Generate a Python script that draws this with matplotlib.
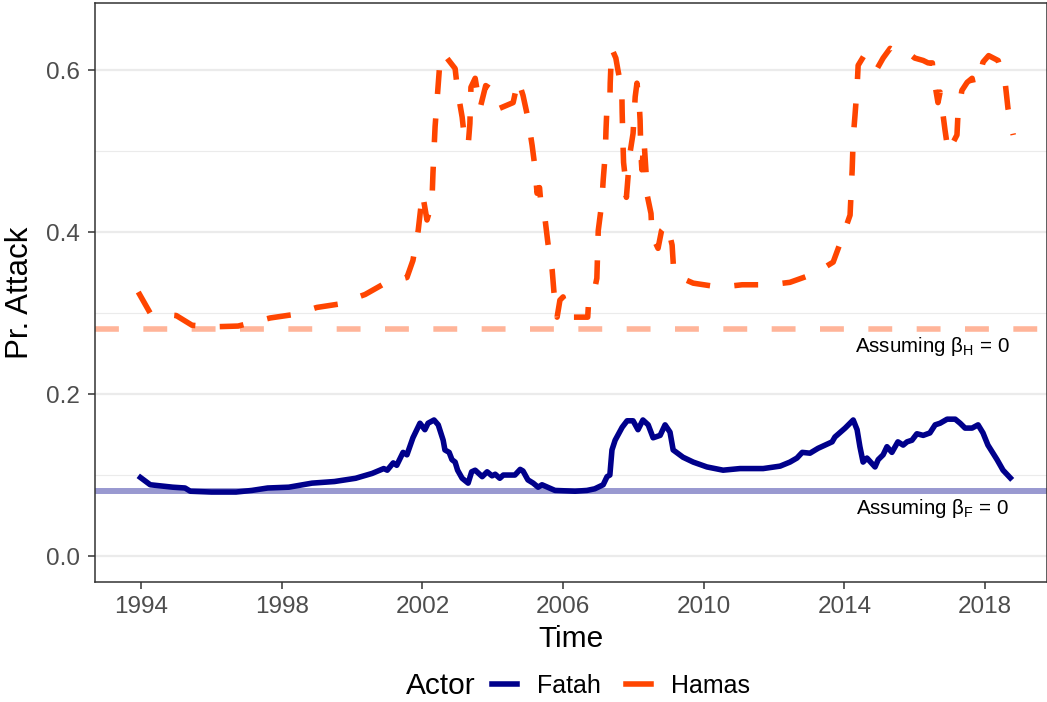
#!/usr/bin/env python3
import matplotlib

matplotlib.use("Agg")
from matplotlib import pyplot as plt
from matplotlib.lines import Line2D

plt.rcParams["font.family"] = ["Liberation Sans", "DejaVu Sans"]

# Fatah predicted attack probability (decimal year, value)
fatah_year = [
    1993.92, 1994.26, 1994.9, 1995.25, 1995.4, 1996.0, 1996.7, 1997.15, 1997.6,
    1998.2, 1998.86, 1999.5, 2000.1, 2000.57, 2000.9, 2001.0, 2001.17, 2001.27,
    2001.45, 2001.56, 2001.73, 2001.93, 2002.07, 2002.16, 2002.33, 2002.45,
    2002.59, 2002.64, 2002.76, 2002.84, 2002.93, 2003.0, 2003.13, 2003.3,
    2003.4, 2003.5, 2003.7, 2003.84, 2003.98, 2004.07, 2004.2, 2004.3, 2004.63,
    2004.78, 2004.86, 2005.0, 2005.15, 2005.29, 2005.4, 2005.77, 2006.34,
    2006.68, 2006.9, 2007.14, 2007.25, 2007.33, 2007.39, 2007.48, 2007.68,
    2007.82, 2007.99, 2008.13, 2008.27, 2008.42, 2008.56, 2008.76, 2008.9,
    2009.04, 2009.13, 2009.41, 2009.7, 2010.09, 2010.55, 2011.03, 2011.69,
    2012.17, 2012.45, 2012.65, 2012.8, 2013.02, 2013.25, 2013.65, 2013.73,
    2014.02, 2014.25, 2014.36, 2014.44, 2014.53, 2014.64, 2014.87, 2014.96,
    2015.1, 2015.21, 2015.35, 2015.52, 2015.67, 2015.78, 2015.92, 2016.06,
    2016.24, 2016.43, 2016.58, 2016.72, 2016.92, 2017.15, 2017.29, 2017.43,
    2017.63, 2017.8, 2017.94, 2018.08, 2018.34, 2018.51, 2018.77,
]
fatah_prob = [
    0.099, 0.088, 0.085, 0.084, 0.080, 0.079, 0.079, 0.081, 0.084,
    0.085, 0.090, 0.092, 0.096, 0.102, 0.108, 0.106, 0.115, 0.112,
    0.128, 0.125, 0.146, 0.164, 0.156, 0.164, 0.168, 0.162,
    0.143, 0.131, 0.128, 0.119, 0.116, 0.106, 0.096, 0.090,
    0.104, 0.106, 0.098, 0.104, 0.099, 0.101, 0.096, 0.100, 0.100,
    0.107, 0.105, 0.094, 0.090, 0.085, 0.088, 0.081, 0.080,
    0.081, 0.083, 0.088, 0.098, 0.100, 0.131, 0.143, 0.159,
    0.167, 0.167, 0.156, 0.168, 0.162, 0.146, 0.149, 0.162,
    0.153, 0.131, 0.122, 0.116, 0.110, 0.106, 0.108, 0.108,
    0.111, 0.116, 0.121, 0.128, 0.127, 0.133, 0.141, 0.147,
    0.158, 0.168, 0.156, 0.135, 0.116, 0.121, 0.110, 0.119,
    0.125, 0.135, 0.128, 0.141, 0.137, 0.141, 0.143, 0.151,
    0.149, 0.152, 0.162, 0.164, 0.169, 0.169, 0.164, 0.158,
    0.158, 0.162, 0.152, 0.137, 0.119, 0.106, 0.094,
]

# Hamas predicted attack probability (decimal year, value)
hamas_year = [
    1993.92, 1994.26, 1995.0, 1995.45, 1996.0, 1996.76, 1997.67, 1998.3,
    1999.0, 1999.6, 2000.37, 2000.94, 2001.56, 2001.73, 2001.88, 2002.0,
    2002.13, 2002.27, 2002.3, 2002.36, 2002.5, 2002.59, 2002.93, 2003.0,
    2003.13, 2003.2, 2003.3, 2003.35, 2003.38, 2003.5, 2003.64, 2003.8,
    2004.07, 2004.2, 2004.58, 2004.72, 2004.86, 2005.0, 2005.12, 2005.2,
    2005.26, 2005.33, 2005.38, 2005.49, 2005.57, 2005.69, 2005.74, 2005.83,
    2005.91, 2006.0, 2006.05, 2006.15, 2006.7, 2006.72, 2006.85, 2006.96,
    2007.0, 2007.1, 2007.14, 2007.2, 2007.22, 2007.25, 2007.33, 2007.34,
    2007.38, 2007.5, 2007.56, 2007.67, 2007.68, 2007.7, 2007.72, 2007.78,
    2007.8, 2007.9, 2007.99, 2008.05, 2008.1, 2008.16, 2008.19, 2008.21,
    2008.24, 2008.3, 2008.36, 2008.39, 2008.5, 2008.53, 2008.7, 2008.8,
    2008.96, 2009.1, 2009.15, 2009.33, 2009.7, 2010.46, 2011.09, 2011.88,
    2012.45, 2013.16, 2013.68, 2013.96, 2014.16, 2014.22, 2014.25, 2014.3,
    2014.36, 2014.39, 2014.6, 2014.73, 2014.93, 2015.1, 2015.3, 2015.52,
    2015.67, 2015.8, 2016.0, 2016.24, 2016.38, 2016.5, 2016.52, 2016.6,
    2016.66, 2016.72, 2016.86, 2016.95, 2017.2, 2017.23, 2017.34, 2017.49,
    2017.63, 2017.66, 2017.8, 2017.94, 2018.1, 2018.37, 2018.57, 2018.65,
    2018.77, 2018.8,
]
hamas_prob = [
    0.326, 0.300, 0.297, 0.285, 0.283, 0.284, 0.294, 0.298,
    0.307, 0.311, 0.323, 0.337, 0.344, 0.365, 0.402, 0.448,
    0.415, 0.436, 0.473, 0.530, 0.612, 0.621, 0.602, 0.575,
    0.542, 0.514, 0.507, 0.534, 0.579, 0.590, 0.553, 0.581,
    0.573, 0.553, 0.560, 0.588, 0.569, 0.541, 0.507, 0.480,
    0.448, 0.455, 0.430, 0.415, 0.386, 0.353, 0.326, 0.295,
    0.316, 0.320, 0.310, 0.295, 0.295, 0.310, 0.320, 0.343,
    0.402, 0.436, 0.464, 0.497, 0.526, 0.557, 0.560, 0.584,
    0.627, 0.615, 0.600, 0.575, 0.548, 0.514, 0.486, 0.462,
    0.443, 0.497, 0.522, 0.567, 0.584, 0.563, 0.538, 0.500,
    0.477, 0.514, 0.473, 0.446, 0.423, 0.396, 0.380, 0.402,
    0.410, 0.384, 0.349, 0.344, 0.337, 0.332, 0.335, 0.335,
    0.338, 0.349, 0.363, 0.396, 0.421, 0.477, 0.517, 0.544,
    0.579, 0.606, 0.621, 0.615, 0.602, 0.615, 0.627, 0.621,
    0.622, 0.622, 0.615, 0.612, 0.609, 0.609, 0.596, 0.575,
    0.560, 0.573, 0.526, 0.499, 0.520, 0.547, 0.575, 0.585,
    0.590, 0.584, 0.584, 0.610, 0.618, 0.612, 0.585, 0.553,
    0.526, 0.520,
]

# baseline probabilities when the beta coefficient is zero
baseline_hamas = 0.28
baseline_fatah = 0.08

x_ticks = [1994, 1998, 2002, 2006, 2010, 2014, 2018]
y_ticks = [0.0, 0.2, 0.4, 0.6]
y_minor = [0.1, 0.3, 0.5]

FATAH_COLOR = "#00008B"
HAMAS_COLOR = "#FF4500"
W, H = 1047, 702


def main() -> int:
    fig = plt.figure(figsize=(W / 100, H / 100), dpi=100)
    ax = fig.add_axes([95 / W, 1 - 582 / H, 952 / W, 579 / H])

    ax.set_xlim(1992.69, 2019.76)
    ax.set_ylim(-0.0321, 0.683)

    # grid, y only
    for v in y_ticks:
        ax.axhline(v, color="#EBEBEB", lw=1.6, zorder=0)
    for v in y_minor:
        ax.axhline(v, color="#EBEBEB", lw=0.8, zorder=0)

    # reference lines
    ax.axhline(baseline_hamas, color=HAMAS_COLOR, alpha=0.4, lw=4,
               dashes=(4.3, 4.4), dash_capstyle="butt", zorder=1)
    ax.axhline(baseline_fatah, color=FATAH_COLOR, alpha=0.4, lw=4.3, zorder=1)

    ax.plot(fatah_year, fatah_prob, color=FATAH_COLOR, lw=4,
            solid_joinstyle="round", solid_capstyle="butt", zorder=3)
    ax.plot(hamas_year, hamas_prob, color=HAMAS_COLOR, lw=4,
            dashes=(4.3, 4.4), dash_capstyle="butt", zorder=3)

    ax.text(2016.5, baseline_hamas - 0.021, "Assuming β$_\\mathregular{H}$ = 0",
            ha="center", va="center", fontsize=14.8)
    ax.text(2016.5, baseline_fatah - 0.021, "Assuming β$_\\mathregular{F}$ = 0",
            ha="center", va="center", fontsize=14.8)

    ax.set_xticks(x_ticks)
    ax.set_yticks(y_ticks)
    ax.set_yticklabels([f"{v:.1f}" for v in y_ticks])
    ax.tick_params(axis="both", which="major", length=5, width=1.1,
                   color="#333333", labelcolor="#4D4D4D", labelsize=17.5)
    ax.tick_params(axis="y", pad=6)
    ax.tick_params(axis="x", pad=5)
    for s in ax.spines.values():
        s.set_color("#333333")
        s.set_linewidth(1.1)

    ax.set_xlabel("Time", fontsize=21.5, labelpad=5)
    ax.set_ylabel("Pr. Attack", fontsize=22.5, labelpad=8)

    # legend: title on the left, two keys in a row
    fig.text(441 / W, 1 - 686 / H, "Actor", ha="center", va="center",
             fontsize=21.5)
    # key is shorter than one dash, so it shows as a plain bar
    handles = [
        Line2D([], [], color=FATAH_COLOR, lw=4),
        Line2D([], [], color=HAMAS_COLOR, lw=4),
    ]
    fig.legend(handles, ["Fatah", "Hamas"], loc="center",
               bbox_to_anchor=(621 / W, 1 - 686 / H), ncol=2, frameon=False,
               fontsize=18, handlelength=1.0, handletextpad=0.8,
               columnspacing=1.0)

    fig.savefig("out.png", dpi=100)
    return 0


if __name__ == "__main__":
    exit(main())
